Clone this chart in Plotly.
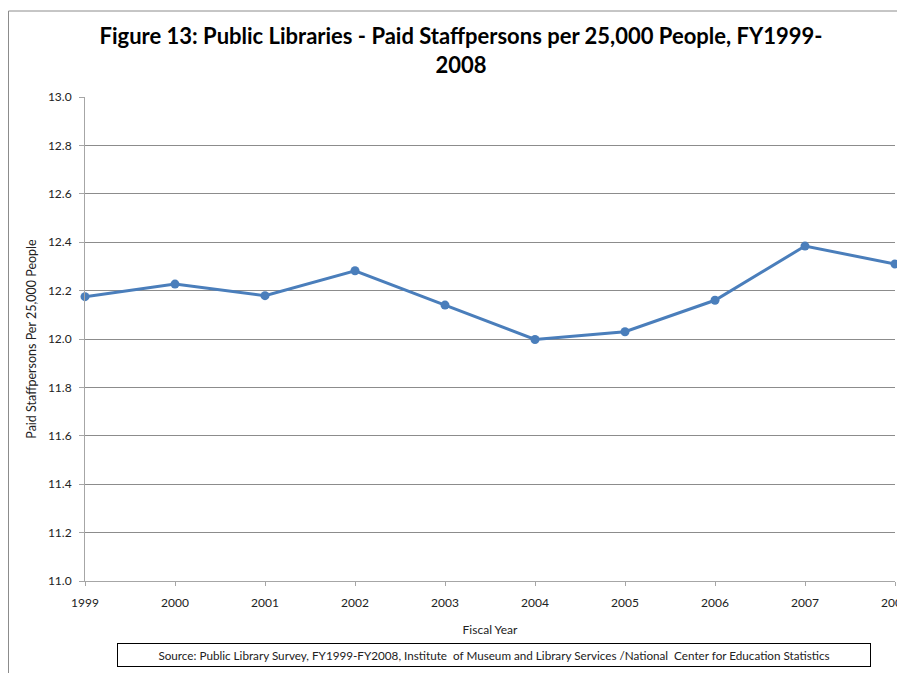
import plotly.graph_objects as go

years = [1999, 2000, 2001, 2002, 2003, 2004, 2005, 2006, 2007, 2008]
staff_per_25k = [12.175, 12.227, 12.179, 12.282, 12.14, 11.998, 12.03, 12.16, 12.384, 12.31]
y_ticks = [11.0, 11.2, 11.4, 11.6, 11.8, 12.0, 12.2, 12.4, 12.6, 12.8, 13.0]

title_text = "Figure 13: Public Libraries - Paid Staffpersons per 25,000 People, FY1999-<br>2008"
source_text = ("Source: Public Library Survey, FY1999-FY2008, Institute  of Museum and Library "
               "Services /National  Center for Education Statistics")

# page has an 8px body margin; work in page coordinates and convert
OFF = 8
W, H = 905 - OFF, 673 - OFF
PL, PR, PT, PB = 85, 895, 97, 581          # plot area in page px
L, R, T, B = PL - OFF, (905 - PR), PT - OFF, (673 - PB)
pw = PR - PL
ph = PB - PT

def px_x(p):
    return (p - PL) / pw

def px_y(p):
    return (PB - p) / ph

font_family = "Lato, 'Open Sans', sans-serif"

fig = go.Figure()
fig.add_trace(go.Scatter(
    x=years, y=staff_per_25k, mode="lines+markers",
    line=dict(color="#4a7ebb", width=3),
    marker=dict(color="#4a7ebb", size=9),
    cliponaxis=False, showlegend=False,
))

fig.update_layout(
    width=W, height=H,
    margin=dict(l=L, r=R, t=T, b=B, pad=0, autoexpand=False),
    paper_bgcolor="white", plot_bgcolor="white",
    font=dict(family=font_family, size=12, color="#222"),
    title=dict(text=title_text, x=(461 - OFF) / W, xanchor="center",
               y=1 - (44 - OFF) / H, yanchor="middle", yref="container",
               font=dict(family=font_family, size=22, color="black", weight="bold")),
    xaxis=dict(range=[1999, 2008], tickmode="array", tickvals=years,
               ticktext=[str(y) for y in years],
               showgrid=False, zeroline=False, automargin=False,
               showline=True, linecolor="#a6a6a6", linewidth=1,
               ticks="outside", ticklen=4, tickcolor="#a6a6a6",
               ticklabelstandoff=7, ticklabeloverflow="allow",
               tickfont=dict(size=12, color="#222"),
               title=dict(text="Fiscal Year", font=dict(size=12, color="#222"), standoff=16)),
    yaxis=dict(range=[11, 13], tickmode="array", tickvals=y_ticks,
               ticktext=[f"{v:.1f}" for v in y_ticks],
               showgrid=True, gridcolor="#8c8c8c", gridwidth=1, zeroline=False,
               automargin=False,
               showline=True, linecolor="#a6a6a6", linewidth=1,
               ticks="outside", ticklen=5, tickcolor="#a6a6a6",
               ticklabelstandoff=5,
               tickfont=dict(size=12, color="#222"),
               title=dict(text="Paid Staffpersons Per 25,000 People",
                          font=dict(size=12.5, color="#222"), standoff=8)),
)

fig.add_shape(type="rect", xref="paper", yref="paper",
              x0=px_x(OFF + 0.5), x1=px_x(1000), y0=px_y(800), y1=px_y(11),
              line=dict(color="#8c8c8c", width=1), fillcolor="rgba(0,0,0,0)", layer="below")

fig.add_annotation(text=source_text, xref="paper", yref="paper",
                   x=px_x(494), y=px_y(655), xanchor="center", yanchor="middle",
                   showarrow=False, width=750, height=20,
                   bordercolor="black", borderwidth=1, borderpad=1,
                   bgcolor="white", font=dict(size=11.7, color="#222"))

fig.write_html("out.html")
